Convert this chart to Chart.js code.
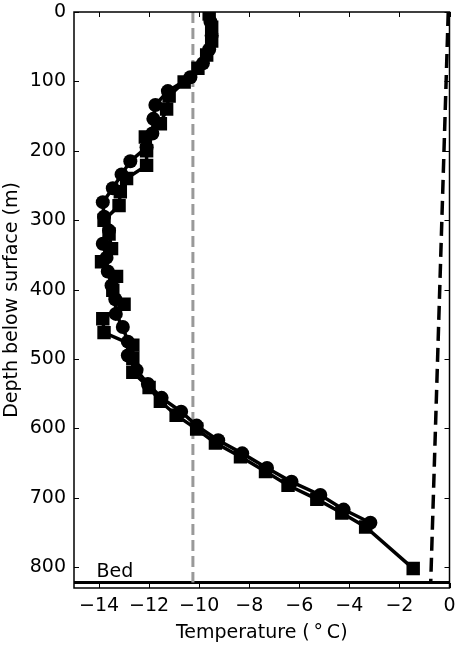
<!DOCTYPE html>
<html>
<head>
<meta charset="utf-8">
<script src="https://cdn.jsdelivr.net/npm/chart.js@4"></script>
<style>
  body { margin: 0; background: #fff; }
  canvas { display: block; }
</style>
</head>
<body>
<canvas id="chart" width="459" height="647"></canvas>
<script>
/* ---- data ---- */
const squareDepth = [3, 22, 42, 62, 81, 101, 121, 140, 161, 180, 200, 221, 240, 259, 279, 300, 320, 341, 360, 381, 401, 421, 442, 462, 480, 499, 519, 541, 561, 581, 601, 621, 641, 662, 682, 702, 722, 742, 802];
const squareTemp = [-9.6, -9.5, -9.5, -9.7, -10.05, -10.6, -11.2, -11.3, -11.55, -12.15, -12.1, -12.1, -12.9, -13.15, -13.2, -13.8, -13.6, -13.5, -13.9, -13.3, -13.45, -13.0, -13.85, -13.8, -12.65, -12.65, -12.65, -12.0, -11.55, -10.92, -10.1, -9.35, -8.35, -7.35, -6.45, -5.3, -4.3, -3.35, -1.45];

const circleDepth = [14, 34, 54, 74, 94, 114, 134, 154, 175, 195, 215, 234, 254, 274, 295, 315, 334, 354, 374, 394, 414, 435, 454, 475, 495, 516, 536, 556, 576, 596, 617, 636, 657, 677, 696, 717, 736];
const circleTemp = [-9.55, -9.5, -9.6, -9.85, -10.35, -11.25, -11.75, -11.83, -11.87, -12.1, -12.75, -13.1, -13.45, -13.85, -13.8, -13.6, -13.85, -13.7, -13.65, -13.5, -13.35, -13.33, -13.05, -12.85, -12.85, -12.5, -12.05, -11.5, -10.72, -10.1, -9.24, -8.28, -7.29, -6.31, -5.16, -4.23, -3.16];

const meanTempLine = [-10.25, -10.25];
const meltTempLine = [-0.05, -0.75];
const refLineDepth = [0, 822];
const bedDepth = 822;

const xTicks = [-14, -12, -10, -8, -6, -4, -2, 0];
const yTicks = [0, 100, 200, 300, 400, 500, 600, 700, 800];

const toPoints = (xs, ys) => xs.map((x, i) => ({ x: x, y: ys[i] }));
const fmt = v => (v < 0 ? "\u2212" + Math.abs(v) : String(v));
const FONT = "DejaVu Sans";

/* ---- frame, inward ticks, bed label ---- */
const framePlugin = {
  id: "frame",
  afterDraw(chart) {
    const ctx = chart.ctx;
    const a = chart.chartArea;
    const sx = chart.scales.x;
    const sy = chart.scales.y;
    ctx.save();
    ctx.strokeStyle = "#000";
    ctx.lineWidth = 1.5;
    ctx.strokeRect(a.left, a.top, a.right - a.left, a.bottom - a.top);
    ctx.lineWidth = 1;
    ctx.beginPath();
    xTicks.forEach(v => {
      const px = Math.round(sx.getPixelForValue(v)) + 0.5;
      ctx.moveTo(px, a.bottom); ctx.lineTo(px, a.bottom - 5);
      ctx.moveTo(px, a.top); ctx.lineTo(px, a.top + 5);
    });
    yTicks.forEach(v => {
      const py = Math.round(sy.getPixelForValue(v)) + 0.5;
      ctx.moveTo(a.left, py); ctx.lineTo(a.left + 5, py);
      ctx.moveTo(a.right, py); ctx.lineTo(a.right - 5, py);
    });
    ctx.stroke();

    ctx.fillStyle = "#000";
    ctx.font = "19px '" + FONT + "'";
    ctx.textAlign = "left";
    ctx.textBaseline = "alphabetic";
    ctx.fillText("Bed", sx.getPixelForValue(-14.1), sy.getPixelForValue(bedDepth - 8));
    ctx.restore();
  }
};

new Chart(document.getElementById("chart"), {
  type: "scatter",
  data: {
    datasets: [
      {
        data: toPoints(squareTemp, squareDepth),
        showLine: true,
        borderColor: "#000",
        borderWidth: 3.5,
        pointStyle: "rect",
        pointRadius: 9.5,
        pointBackgroundColor: "#000",
        pointBorderWidth: 0
      },
      {
        data: toPoints(circleTemp, circleDepth),
        showLine: true,
        borderColor: "#000",
        borderWidth: 3.5,
        pointStyle: "circle",
        pointRadius: 7,
        pointBackgroundColor: "#000",
        pointBorderWidth: 0
      },
      {
        data: toPoints(meanTempLine, refLineDepth),
        showLine: true,
        borderColor: "#999",
        borderWidth: 3,
        borderDash: [11, 5],
        pointRadius: 0
      },
      {
        data: toPoints(meltTempLine, refLineDepth),
        showLine: true,
        borderColor: "#000",
        borderWidth: 3.5,
        borderDash: [14, 7],
        pointRadius: 0
      },
      {
        data: toPoints([-15, 0], [bedDepth, bedDepth]),
        showLine: true,
        borderColor: "#000",
        borderWidth: 3,
        pointRadius: 0
      }
    ]
  },
  options: {
    responsive: false,
    animation: false,
    layout: { padding: { top: 12, right: 8, left: 0, bottom: 0 } },
    plugins: {
      legend: { display: false },
      tooltip: { enabled: false }
    },
    scales: {
      x: {
        type: "linear",
        position: "bottom",
        min: -15,
        max: 0,
        afterBuildTicks: s => { s.ticks = xTicks.map(v => ({ value: v })); },
        afterFit: s => { s.height = 59; s.paddingLeft = 0; s.paddingRight = 0; },
        grid: { display: false, drawTicks: false },
        border: { display: false },
        ticks: {
          padding: 7,
          color: "#000",
          font: { family: FONT, size: 19 },
          maxRotation: 0,
          callback: v => fmt(v)
        },
        title: {
          display: true,
          text: "Temperature (\u2009\u00B0\u2009C)",
          color: "#000",
          font: { family: FONT, size: 19 },
          padding: { top: 0, bottom: 3 }
        }
      },
      y: {
        type: "linear",
        reverse: true,
        min: 0,
        max: 830,
        afterBuildTicks: s => { s.ticks = yTicks.map(v => ({ value: v })); },
        afterFit: s => { s.width = 74; s.paddingTop = 0; s.paddingBottom = 0; },
        grid: { display: false, drawTicks: false },
        border: { display: false },
        ticks: {
          padding: 8,
          color: "#000",
          font: { family: FONT, size: 19 },
          callback: v => fmt(v)
        },
        title: {
          display: true,
          text: "Depth below surface (m)",
          color: "#000",
          font: { family: FONT, size: 19 },
          padding: { top: 1, bottom: 0 }
        }
      }
    }
  },
  plugins: [framePlugin]
});
</script>
</body>
</html>
